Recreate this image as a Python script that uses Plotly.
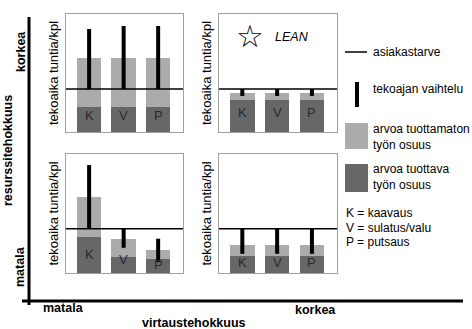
import plotly.graph_objects as go

W, H = 472, 329
FONT = "Arial, Liberation Sans, sans-serif"

# ---------------- data (units: arbitrary time per piece) ----------------
processes = ["K", "V", "P"]
# top-left panel (high resource eff., low flow eff.)
tl_value = [25, 25, 25]
tl_total = [74, 74, 74]
tl_demand = 43
tl_var_low = [43, 43, 43]
tl_var_high = [103, 106, 106]
# top-right panel (LEAN)
tr_value = [32, 32, 32]
tr_total = [39, 39, 39]
tr_demand = 43
tr_var_low = [36, 36, 36]
tr_var_high = [43, 43, 43]
# bottom-left panel
bl_value = [36, 16, 14]
bl_total = [75, 34, 23]
bl_demand = 44
bl_var_low = [44, 25, 11]
bl_var_high = [107, 44, 34]
# bottom-right panel
br_value = [17, 17, 17]
br_total = [28, 28, 28]
br_demand = 44
br_var_low = [19, 19, 19]
br_var_high = [44, 44, 44]

axis_title = "tekoaika tuntia/kpl"
legend_texts = ["asiakastarve", "tekoajan vaihtelu",
                "arvoa tuottamaton<br>työn osuus", "arvoa tuottava<br>työn osuus"]
abbrev_texts = ["K = kaavaus", "V = sulatus/valu", "P = putsaus"]

LIGHT = "#ababab"
DARK = "#676767"

def px_x(px):
    return px / W

def px_y(py):
    return 1 - py / H

# panel boxes in pixels: (left, right, top, bottom), letter label height
panels = [
    dict(name="", box=(66, 183, 14, 132), value=tl_value, total=tl_total, demand=tl_demand,
         lo=tl_var_low, hi=tl_var_high, label_y=16),
    dict(name="2", box=(219, 337, 14, 132), value=tr_value, total=tr_total, demand=tr_demand,
         lo=tr_var_low, hi=tr_var_high, label_y=19),
    dict(name="3", box=(66, 183, 154, 273), value=bl_value, total=bl_total, demand=bl_demand,
         lo=bl_var_low, hi=bl_var_high, label_y=None),
    dict(name="4", box=(219, 337, 154, 273), value=br_value, total=br_total, demand=br_demand,
         lo=br_var_low, hi=br_var_high, label_y=10),
]
bl_label_y = [18, 13, 8]

fig = go.Figure()
shapes = []
annotations = []

def ann(**kw):
    d = dict(showarrow=False, xanchor="center", yanchor="middle")
    d.update(kw)
    annotations.append(d)
    return d

XR = [-0.67, 2.72]
for i, p in enumerate(panels):
    xa = "x" + p["name"]
    ya = "y" + p["name"]
    l, r, t, b = p["box"]
    xs = list(range(len(processes)))
    fig.add_trace(go.Bar(x=xs, y=p["total"], width=0.71, marker=dict(color=LIGHT, line=dict(width=0)),
                         xaxis=xa, yaxis=ya, showlegend=False, hoverinfo="skip"))
    fig.add_trace(go.Bar(x=xs, y=p["value"], width=0.71, marker=dict(color=DARK, line=dict(width=0)),
                         xaxis=xa, yaxis=ya, showlegend=False, hoverinfo="skip"))
    # demand line
    fig.add_trace(go.Scatter(x=XR, y=[p["demand"], p["demand"]], mode="lines",
                             line=dict(color="black", width=1.5), xaxis=xa, yaxis=ya,
                             showlegend=False, hoverinfo="skip"))
    # variation segments
    vx, vy = [], []
    for j in xs:
        vx += [j, j, None]
        vy += [p["lo"][j], p["hi"][j], None]
    fig.add_trace(go.Scatter(x=vx, y=vy, mode="lines", line=dict(color="black", width=4),
                             xaxis=xa, yaxis=ya, showlegend=False, hoverinfo="skip"))
    # letters
    for j, name in enumerate(processes):
        ly = p["label_y"] if p["label_y"] is not None else bl_label_y[j]
        ann(x=j, y=ly, xref=xa, yref=ya, text=name,
            font=dict(family=FONT, size=13, color="#2a2a2a"))
    axkey = "xaxis" + p["name"]
    aykey = "yaxis" + p["name"]
    fig.layout[axkey] = dict(domain=[px_x(l), px_x(r)], range=XR, anchor=ya,
                             showgrid=False, zeroline=False, showticklabels=False, ticks="",
                             showline=True, mirror=True, linecolor="#a0a0a0", linewidth=1)
    fig.layout[aykey] = dict(domain=[px_y(b), px_y(t)], range=[0, 118], anchor=xa,
                             showgrid=False, zeroline=False, showticklabels=False, ticks="",
                             showline=True, mirror=True, linecolor="#a0a0a0", linewidth=1)
    # axis title
    ann(x=px_x(l - 13), y=px_y((t + b) / 2), xref="paper", yref="paper",
        text=axis_title, textangle=-90, font=dict(family=FONT, size=13, color="black"))

# star and LEAN
ann(x=px_x(250), y=px_y(36), xref="paper", yref="paper", text="☆",
    font=dict(family="DejaVu Sans", size=31, color="black"))
ann(x=px_x(273), y=px_y(37), xref="paper", yref="paper", text="<i>LEAN</i>",
    xanchor="left", font=dict(family=FONT, size=12.5, color="black"))

# big axes
shapes.append(dict(type="line", xref="paper", yref="paper", x0=px_x(29), x1=px_x(29),
                   y0=px_y(17), y1=px_y(305), line=dict(color="black", width=3)))
shapes.append(dict(type="line", xref="paper", yref="paper", x0=px_x(22), x1=px_x(463),
                   y0=px_y(301), y1=px_y(301), line=dict(color="black", width=3)))

bold = dict(family=FONT, size=12.5, color="black")
for x, y, txt, ang in [(21, 52, "korkea", -90), (8, 151, "resurssitehokkuus", -90),
                       (20, 267, "matala", -90), (63, 308, "matala", 0),
                       (315, 310, "korkea", 0), (194, 323, "virtaustehokkuus", 0)]:
    ann(x=px_x(x), y=px_y(y), xref="paper", yref="paper", text="<b>%s</b>" % txt,
        textangle=ang, font=bold)

# legend
leg = dict(family=FONT, size=12, color="black")
shapes.append(dict(type="line", xref="paper", yref="paper", x0=px_x(345), x1=px_x(367),
                   y0=px_y(52), y1=px_y(52), line=dict(color="black", width=1.5)))
shapes.append(dict(type="line", xref="paper", yref="paper", x0=px_x(357), x1=px_x(357),
                   y0=px_y(82), y1=px_y(107), line=dict(color="black", width=4)))
shapes.append(dict(type="rect", xref="paper", yref="paper", x0=px_x(345), x1=px_x(368),
                   y0=px_y(149), y1=px_y(123), fillcolor=LIGHT, line=dict(width=0)))
shapes.append(dict(type="rect", xref="paper", yref="paper", x0=px_x(345), x1=px_x(368),
                   y0=px_y(192), y1=px_y(164), fillcolor=DARK, line=dict(width=0)))
for txt, yy in zip(legend_texts, [52, 89, 137, 177]):
    ann(x=px_x(371), y=px_y(yy), xref="paper", yref="paper", text=txt,
        xanchor="left", align="left", font=leg)
for txt, yy in zip(abbrev_texts, [213, 228, 242]):
    ann(x=px_x(344), y=px_y(yy), xref="paper", yref="paper", text=txt,
        xanchor="left", align="left", font=leg)

fig.update_layout(width=W, height=H, margin=dict(l=0, r=0, t=0, b=0),
                  paper_bgcolor="white", plot_bgcolor="white", barmode="overlay",
                  bargap=0, shapes=shapes, annotations=annotations, showlegend=False)
fig.write_html("out.html", config={"displayModeBar": False})
